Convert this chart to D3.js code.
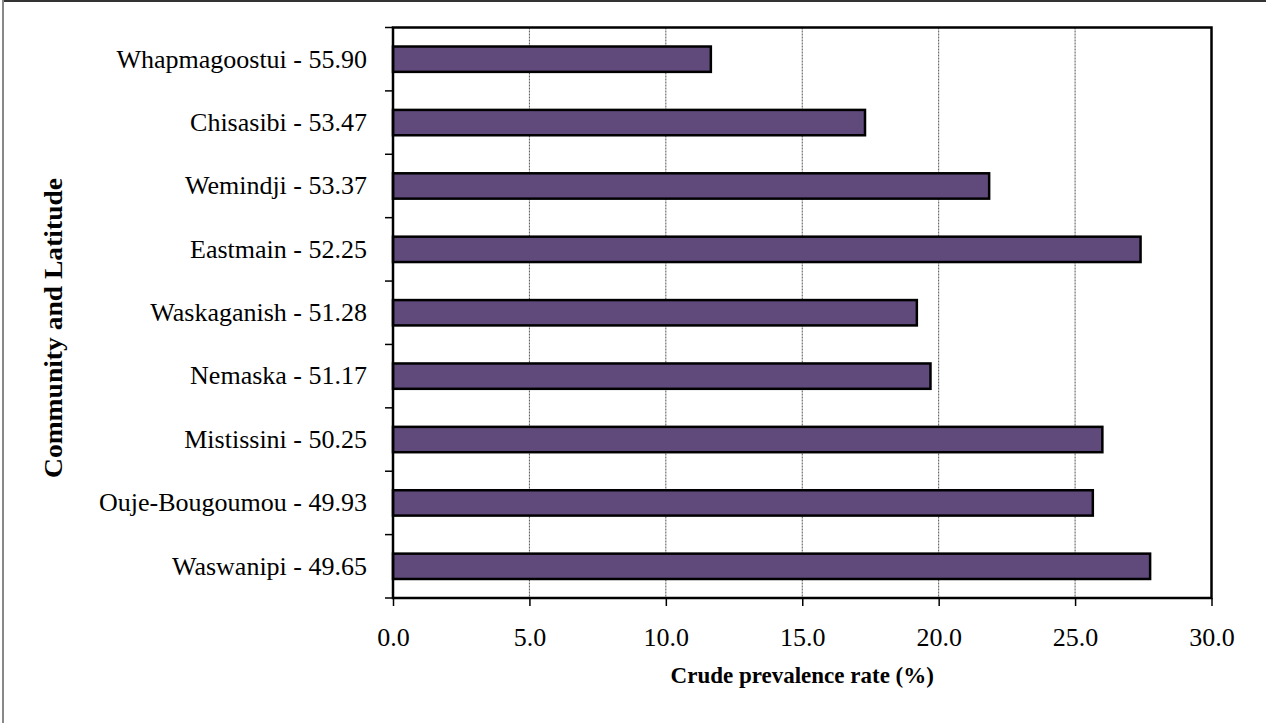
<!DOCTYPE html>
<html>
<head>
<meta charset="utf-8">
<script src="https://cdn.jsdelivr.net/npm/d3@7"></script>
<style>
  html, body { margin: 0; padding: 0; background: #fff; }
  svg { display: block; }
  text { font-family: "Liberation Serif", "Times New Roman", serif; fill: #000; }
</style>
</head>
<body>
<svg id="chart" width="1266" height="723"></svg>
<script>
const categories = [
  "Whapmagoostui - 55.90",
  "Chisasibi - 53.47",
  "Wemindji - 53.37",
  "Eastmain - 52.25",
  "Waskaganish - 51.28",
  "Nemaska - 51.17",
  "Mistissini - 50.25",
  "Ouje-Bougoumou - 49.93",
  "Waswanipi - 49.65"
];
const prevalence = [11.65, 17.3, 21.85, 27.4, 19.2, 19.7, 26.0, 25.65, 27.75];
const xTicks = [0, 5, 10, 15, 20, 25, 30];
const xTitle = "Crude prevalence rate (%)";
const yTitle = "Community and Latitude";

const data = categories.map((c, i) => ({ cat: c, val: prevalence[i] }));

const svg = d3.select("#chart");
const W = 1266, H = 723;
const m = { left: 393, right: 1211.5, top: 27.5, bottom: 598 };

// outer frame (top + left visible)
svg.append("line").attr("x1", 3).attr("x2", W).attr("y1", 1).attr("y2", 1)
  .attr("stroke", "#333").attr("stroke-width", 2);
svg.append("line").attr("x1", 3).attr("x2", 3).attr("y1", 0).attr("y2", H)
  .attr("stroke", "#888").attr("stroke-width", 2);

const x = d3.scaleLinear().domain([0, 30]).range([m.left, m.right]);
const y = d3.scaleBand().domain(categories).range([m.top, m.bottom])
  .paddingInner(0.6).paddingOuter(0.3);

// gridlines
svg.append("g").selectAll("line").data(xTicks.filter(t => t > 0 && t < 30)).join("line")
  .attr("x1", d => x(d)).attr("x2", d => x(d))
  .attr("y1", m.top).attr("y2", m.bottom)
  .attr("stroke", "#555").attr("stroke-width", 1).attr("stroke-dasharray", "2,1");

// bars
svg.append("g").selectAll("rect").data(data).join("rect")
  .attr("x", x(0)).attr("y", d => y(d.cat))
  .attr("width", d => x(d.val) - x(0)).attr("height", y.bandwidth())
  .attr("fill", "#604a7b").attr("stroke", "#000").attr("stroke-width", 2.5);

// plot box
svg.append("rect").attr("x", m.left).attr("y", m.top)
  .attr("width", m.right - m.left).attr("height", m.bottom - m.top)
  .attr("fill", "none").attr("stroke", "#000").attr("stroke-width", 2.5);

// x axis
const xAxis = d3.axisBottom(x).tickValues(xTicks).tickFormat(d3.format(".1f"))
  .tickSize(8).tickPadding(22);
const gx = svg.append("g").attr("transform", `translate(0,${m.bottom})`).call(xAxis);
gx.select(".domain").remove();
gx.selectAll(".tick line").attr("stroke", "#000").attr("stroke-width", 1.5);
gx.selectAll(".tick text").style("font-family", '"Liberation Serif", serif')
  .style("font-size", "26px").attr("fill", "#000");

// y axis labels (category)
const yAxis = d3.axisLeft(y).tickSize(0).tickPadding(26);
const gy = svg.append("g").attr("transform", `translate(${m.left},0)`).call(yAxis);
gy.select(".domain").remove();
gy.selectAll(".tick text").style("font-family", '"Liberation Serif", serif')
  .style("font-size", "26px").attr("fill", "#000");

// y ticks at band boundaries
const step = y.step();
const y0 = y(categories[0]) - step * y.paddingInner() / 2;
const boundaries = d3.range(categories.length + 1).map(i => y0 + i * step);
svg.append("g").selectAll("line").data(boundaries).join("line")
  .attr("x1", m.left - 8).attr("x2", m.left)
  .attr("y1", d => d).attr("y2", d => d)
  .attr("stroke", "#000").attr("stroke-width", 1.5);

// titles
svg.append("text").attr("x", (m.left + m.right) / 2).attr("y", 683)
  .attr("text-anchor", "middle").style("font-size", "23px").style("font-weight", "bold")
  .text(xTitle);
svg.append("text").attr("transform", "translate(62,328) rotate(-90)")
  .attr("text-anchor", "middle").style("font-size", "25px").style("font-weight", "bold")
  .attr("textLength", 300).attr("lengthAdjust", "spacingAndGlyphs")
  .text(yTitle);
</script>
</body>
</html>
